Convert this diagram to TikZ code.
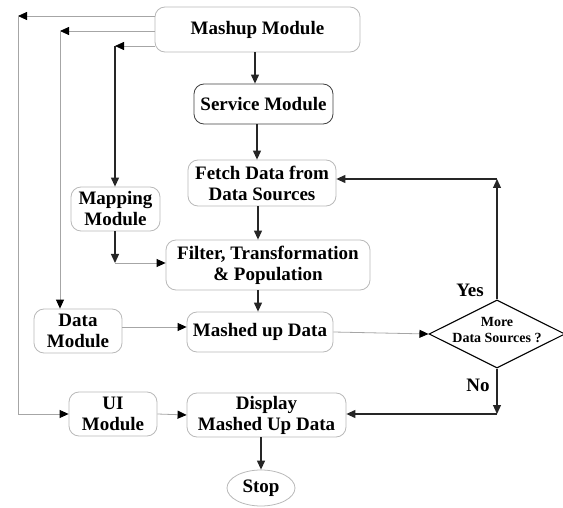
\documentclass[tikz,border=0pt]{standalone}
\usepackage{fontspec}
\setmainfont{LiberationSerif}[Extension=.ttf, UprightFont=*-Regular, BoldFont=*-Bold]
\usetikzlibrary{shapes.geometric,arrows.meta}
\begin{document}
\begin{tikzpicture}[x=1pt,y=-1pt,
  box/.style={draw=gray!55, line width=0.8pt, rounded corners=10pt, align=center,
              font=\rmfamily\fontsize{19}{21}\selectfont\bfseries, inner sep=0pt},
  flow/.style={-{Triangle[length=9pt,width=8pt]}, line width=1.2pt, black!85},
  link/.style={-{Triangle[length=9pt,width=8pt,color=black,fill=black]}, line width=0.8pt, gray!70},
  lbl/.style={font=\rmfamily\fontsize{19}{21}\selectfont\bfseries, inner sep=0pt},
]
\useasboundingbox (0,0) rectangle (563,508);

% process boxes
\node[box, minimum width=205pt, minimum height=45pt] (mashup)  at (257.5,29.5) {Mashup Module};
\node[box, draw=black!75, minimum width=139pt, minimum height=40pt] (service) at (263.5,104) {Service Module};
\node[box, minimum width=148pt, minimum height=46pt] (fetch)   at (262,183)   {Fetch Data from\\Data Sources};
\node[box, minimum width=89pt,  minimum height=44pt] (mapping) at (115.5,209) {Mapping\\Module};
\node[box, minimum width=204pt, minimum height=50pt] (filter)  at (268,265)   {Filter, Transformation\\\& Population};
\node[box, minimum width=88pt,  minimum height=44pt] (data)    at (78,331)    {Data\\Module};
\node[box, minimum width=146pt, minimum height=40pt] (mashed)  at (260,332)   {Mashed up Data};
\node[box, minimum width=88pt,  minimum height=44pt] (ui)      at (113,414)   {UI\\Module};
\node[box, minimum width=159pt, minimum height=44pt] (display) at (266.5,415) {Display\\Mashed Up Data};
\node[draw=gray!55, line width=0.8pt, ellipse, minimum width=68pt, minimum height=36pt,
      inner sep=0pt, font=\rmfamily\fontsize{19}{21}\selectfont\bfseries] (stop) at (261,488) {Stop};

% decision
\node[draw=black, line width=1.1pt, diamond, minimum width=136pt, minimum height=68pt, inner sep=0pt] (dec) at (497,334) {};
\node[align=center, inner sep=0pt, font=\rmfamily\fontsize{14}{16}\selectfont\bfseries] (dectext) at (497,330) {More\\Data Sources ?};
\node[lbl] (yes) at (470,290) {Yes};
\node[lbl] (no)  at (478,385) {No};

% helper points
\coordinate (l1) at (18,16);
\coordinate (l2) at (60,31);
\coordinate (l3) at (115,46);
\coordinate (v1) at (255,0);
\coordinate (v2) at (257,0);
\coordinate (v3) at (258,0);
\coordinate (v4) at (261,0);
\coordinate (m1) at (115,263);
\coordinate (h1) at (0,327);
\coordinate (yc) at (497,179);
\coordinate (nc) at (497,414);

% branches from the mashup module
\draw[link] (mashup.west |- l1) -- (l1);
\draw[link] (l1) |- (ui.west);
\draw[link] (mashup.west |- l2) -- (l2);
\draw[link] (l2) -- (data.north -| l2);
\draw[link] (mashup.west |- l3) -- (l3);
\draw[flow] (l3) -- (mapping.north -| l3);

% main flow
\draw[flow] (mashup.south -| v1) -- (service.north -| v1);
\draw[flow] (service.south -| v2) -- (fetch.north -| v2);
\draw[flow] (fetch.south -| v3) -- (filter.north -| v3);
\draw[flow] (filter.south -| v3) -- (mashed.north -| v3);
\draw[flow] (display.south -| v4) -- (stop.north -| v4);

\draw[flow] (mapping.south -| m1) -- (m1);
\draw[link] (m1) -- (filter.west |- m1);
\draw[link] (data.east |- h1) -- (mashed.west |- h1);
\draw[link] (mashed.east) -- (dec.west);
\draw[link] (ui.east) -- (display.west);

% decision outcomes
\draw[flow] (dec.north) -- (yc);
\draw[flow] (yc) -- (fetch.east |- yc);
\draw[flow] (dec.south) -- (nc);
\draw[flow] (nc) -- (display.east |- nc);
\end{tikzpicture}
\end{document}
